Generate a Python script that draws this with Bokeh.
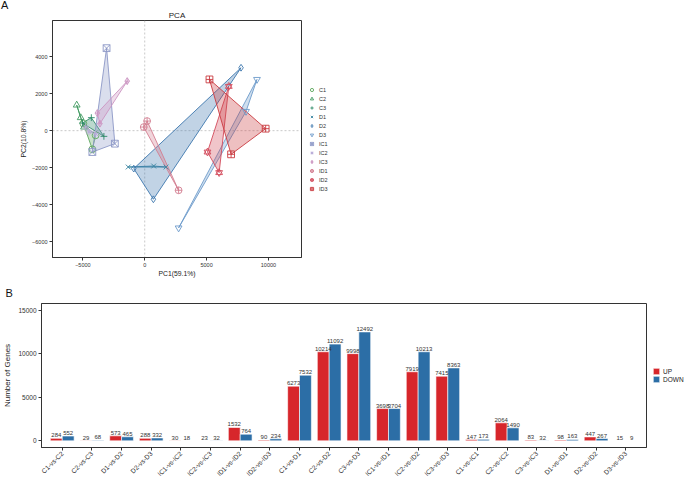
from math import pi
from bokeh.plotting import figure
from bokeh.models import (Range1d, FixedTicker, Span, Legend, LegendItem, Div,
                          ColumnDataSource, FactorRange)
from bokeh.transform import dodge
from bokeh.layouts import column, row
from bokeh.embed import file_html
from bokeh.resources import INLINE
from bokeh.core.properties import value

FONT = "Liberation Sans"

# ---------------- Panel A data (PCA) ----------------
groups = ["C1", "C2", "C3", "D1", "D2", "D3", "IC1", "IC2", "IC3", "ID1", "ID2", "ID3"]
pc1 = [
    [-4235, -3969, -4960],
    [-5499, -5177, -4911],
    [-4316, -3301, -5040],
    [-1337, 725, 1723],
    [7786, -886, 700],
    [9074, 8188, 2738],
    [-3084, -2415, -4235],
    [-4509, -4774, -3969],
    [-1417, -3833, -3623],
    [193, -81, 2738],
    [6795, 5072, 6014],
    [5233, 9775, 6981],
]
pc2 = [
    [-1011, -254, 378],
    [1384, 703, 195],
    [703, -308, 411],
    [-1968, -1914, -1968],
    [3405, -2054, -3714],
    [2773, 1043, -5265],
    [4465, -703, -1157],
    [-76, 195, -162],
    [2681, 951, 378],
    [519, 195, -3227],
    [2395, -1157, -2270],
    [2773, 108, -1281],
]
markers = ["circle", "triangle", "cross", "x", "diamond", "inverted_triangle",
           "square_x", "asterisk", "diamond_cross", "circle_cross", "triangle", "square_cross"]
colors = ["#5EA75C", "#3F9A60", "#2C8A68", "#3A86A2", "#3D77AE", "#6D9BCB",
          "#8C97C6", "#B8ACD8", "#CC95C2", "#D37D90", "#D34B5B", "#C93A3F"]
xticks_a = [-5000, 0, 5000, 10000]
yticks_a = [-6000, -4000, -2000, 0, 2000, 4000]

# ---------------- Panel B data (DEG counts) ----------------
cats = ["C1-vs-C2", "C2-vs-C3", "D1-vs-D2", "D2-vs-D3", "IC1-vs-IC2", "IC2-vs-IC3",
        "ID1-vs-ID2", "ID2-vs-ID3", "C1-vs-D1", "C2-vs-D2", "C3-vs-D3", "IC1-vs-ID1",
        "IC2-vs-ID2", "IC3-vs-ID3", "C1-vs-IC1", "C2-vs-IC2", "C3-vs-IC3", "D1-vs-ID1",
        "D2-vs-ID2", "D3-vs-ID3"]
up = [284, 29, 573, 288, 30, 23, 1532, 90, 6273, 10214, 9998, 3698, 7919, 7415,
      147, 2064, 83, 98, 447, 15]
down = [552, 68, 465, 332, 18, 32, 764, 234, 7532, 11092, 12492, 3704, 10213, 8363,
        173, 1490, 32, 163, 267, 9]
yticks_b = [0, 5000, 10000, 15000]
RED = "#D7262B"
BLUE = "#2C6EA6"


def style_axes(p, tick_size):
    for ax in (p.xaxis[0], p.yaxis[0]):
        ax.axis_line_color = "#333333"
        ax.major_tick_line_color = "#333333"
        ax.major_tick_out = 3
        ax.major_tick_in = 0
        ax.minor_tick_line_color = None
        ax.major_label_text_font = FONT
        ax.major_label_text_font_size = tick_size
        ax.major_label_text_color = "#333333"
        ax.major_label_standoff = 2
        ax.axis_label_text_font = FONT
        ax.axis_label_text_font_style = "normal"
        ax.axis_label_text_color = "#222222"
    p.xgrid.visible = False
    p.ygrid.visible = False
    p.outline_line_color = "#333333"
    p.outline_line_width = 1
    p.outline_line_alpha = 1


# ---------------- Panel A ----------------
pA = figure(frame_width=249, frame_height=237,
            x_range=Range1d(-7456, 12673), y_range=Range1d(-6865, 5962),
            output_backend="svg", toolbar_location=None, title="PCA",
            min_border_left=37, min_border_right=5, min_border_top=20,
            min_border_bottom=18)
pA.title.align = "center"
pA.title.standoff = 2
pA.title.text_font = FONT
pA.title.text_font_size = "8px"
pA.title.text_font_style = "normal"
pA.title.text_color = "#222222"
style_axes(pA, "5.5px")
pA.xaxis.ticker = FixedTicker(ticks=xticks_a)
pA.yaxis.ticker = FixedTicker(ticks=yticks_a)
pA.xaxis.axis_label = "PC1(59.1%)"
pA.yaxis.axis_label = "PC2(10.8%)"
pA.xaxis.axis_label_text_font_size = "6.8px"
pA.yaxis.axis_label_text_font_size = "6.8px"
pA.xaxis.axis_label_standoff = 0
pA.yaxis.axis_label_standoff = 2

pA.add_layout(Span(location=0, dimension="width", line_dash="2 2",
                   line_color="#BBBBBB", line_width=0.8, level="underlay"))
pA.add_layout(Span(location=0, dimension="height", line_dash="2 2",
                   line_color="#BBBBBB", line_width=0.8, level="underlay"))

items = []
for g, xs, ys, m, c in zip(groups, pc1, pc2, markers, colors):
    src = ColumnDataSource(dict(x=xs, y=ys))
    pA.patch(x="x", y="y", source=src, fill_color=c, fill_alpha=0.32,
             line_color=c, line_width=0.9)
for g, xs, ys, m, c in zip(groups, pc1, pc2, markers, colors):
    src = ColumnDataSource(dict(x=xs, y=ys))
    rs = [pA.scatter(x="x", y="y", source=src, marker=m, size=6.8,
                     fill_color=None, line_color=c, line_width=0.9)]
    if g == "ID2":
        rs.append(pA.scatter(x="x", y="y", source=src, marker="inverted_triangle",
                             size=6.8, fill_color=None, line_color=c, line_width=0.9))
    items.append(LegendItem(label=g, renderers=rs))

legA = Legend(items=items, location="center_left", glyph_width=9, glyph_height=8,
              label_height=8, spacing=1, label_standoff=3, margin=6, padding=2,
              label_text_font=FONT, label_text_font_size="5.5px",
              label_text_color="#333333", border_line_color=None,
              background_fill_alpha=0)
pA.add_layout(legA, "right")

letterA = Div(text="A", width=15, height=20, margin=0,
              styles={"font-family": FONT, "font-size": "11px", "color": "#111111",
                      "line-height": "11px", "padding-left": "1px"})

# ---------------- Panel B ----------------
src_b = ColumnDataSource(dict(cat=cats, up=up, down=down,
                              up_lbl=[str(v) for v in up],
                              down_lbl=[str(v) for v in down]))
pB = figure(frame_width=605, frame_height=144,
            x_range=FactorRange(factors=cats, range_padding=0.2,
                                range_padding_units="absolute"),
            y_range=Range1d(-765, 15750),
            output_backend="svg", toolbar_location=None, title="B",
            min_border_left=37, min_border_top=24, min_border_bottom=26,
            min_border_right=3)
pB.title.align = "left"
pB.title.offset = -36
pB.title.standoff = 9
pB.title.text_font = FONT
pB.title.text_font_size = "11px"
pB.title.text_font_style = "normal"
pB.title.text_color = "#111111"
style_axes(pB, "6.5px")
pB.yaxis.ticker = FixedTicker(ticks=yticks_b)
pB.yaxis.axis_label = "Number of Genes"
pB.yaxis.axis_label_text_font_size = "8px"
pB.yaxis.axis_label_standoff = 3
pB.xaxis.major_label_orientation = pi / 4
pB.xaxis.major_label_text_font_size = "6.6px"

r_up = pB.vbar(x=dodge("cat", -0.2, range=pB.x_range), top="up", bottom=0,
               width=0.4, source=src_b, fill_color=RED, line_color="white",
               line_width=0.6)
r_dn = pB.vbar(x=dodge("cat", 0.2, range=pB.x_range), top="down", bottom=0,
               width=0.4, source=src_b, fill_color=BLUE, line_color="white",
               line_width=0.6)
pB.text(x=dodge("cat", -0.2, range=pB.x_range), y="up", text="up_lbl", source=src_b,
        text_align="center", text_baseline="bottom", y_offset=-1,
        text_font=value(FONT), text_font_size="6px", text_color="#333333")
pB.text(x=dodge("cat", 0.2, range=pB.x_range), y="down", text="down_lbl", source=src_b,
        text_align="center", text_baseline="bottom", y_offset=-1,
        text_font=value(FONT), text_font_size="6px", text_color="#333333")

legB = Legend(items=[LegendItem(label="UP", renderers=[r_up]),
                     LegendItem(label="DOWN", renderers=[r_dn])],
              location="center_left", glyph_width=8, glyph_height=8, label_height=8,
              spacing=0, label_standoff=3, margin=6, padding=2,
              label_text_font=FONT, label_text_font_size="6.5px",
              label_text_color="#222222", border_line_color=None,
              background_fill_alpha=0)
pB.add_layout(legB, "right")

layout = column(row(letterA, pA, spacing=0), pB, spacing=0)
open("out.html", "w").write(file_html(layout, INLINE))
